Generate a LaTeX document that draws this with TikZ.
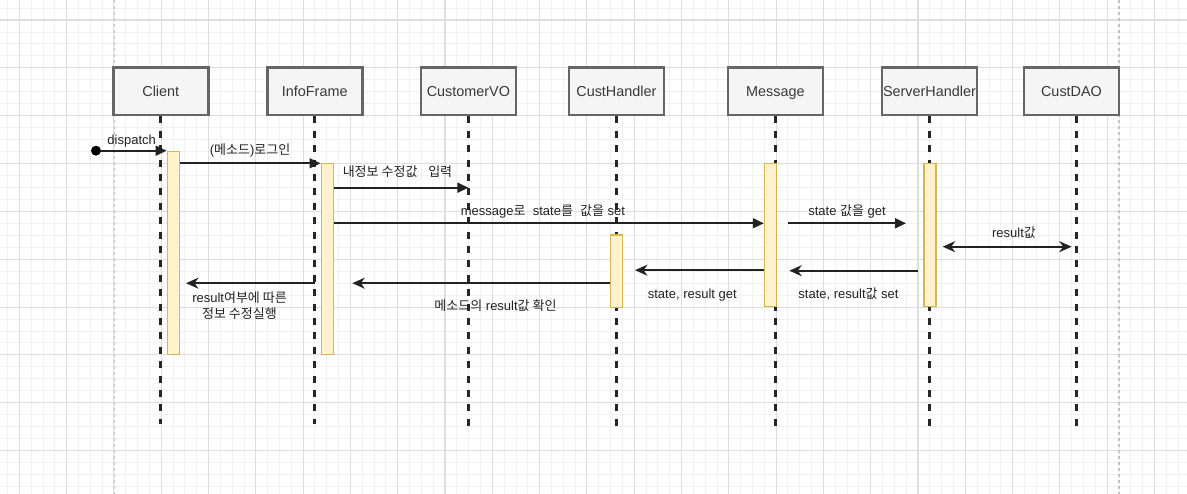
\documentclass[tikz,border=0pt]{standalone}
\usepackage{fontspec}
\setmainfont{Liberation Sans}
\newfontfamily\krfont{Noto Sans CJK KR}
\newcommand\ko[1]{{\krfont #1}}
\usetikzlibrary{arrows.meta}
\definecolor{gridminor}{HTML}{F1F1F1}
\definecolor{gridmajor}{HTML}{DEDEDE}
\definecolor{pageline}{HTML}{C4C4C4}
\definecolor{boxfill}{HTML}{F5F5F5}
\definecolor{boxline}{HTML}{666666}
\definecolor{barfill}{HTML}{FFF2CC}
\definecolor{barline}{HTML}{D6B656}
\definecolor{ink}{HTML}{222222}
\begin{document}
\begin{tikzpicture}[x=1pt,y=-1pt,
  actor/.style={draw=boxline, line width=2.6pt, fill=boxfill, minimum width=95pt,
    minimum height=47.7pt, inner sep=0pt, text=ink!90, font=\fontsize{14.4}{16}\selectfont,
    text height=10.3pt, text depth=0pt},
  lifeline/.style={line width=3pt, black!85, dash pattern=on 7pt off 7.4pt},
  bar/.style={draw=barline, fill=barfill, line width=1.4pt, minimum width=12pt, inner sep=0pt},
  msg/.style={draw=ink, line width=1.7pt, -{Triangle[length=11pt,width=10pt]}},
  ret/.style={draw=ink, line width=1.7pt, -{Stealth[length=12.5pt,width=11pt,inset=4pt]}},
  both/.style={draw=ink, line width=1.7pt, {Stealth[length=12.5pt,width=11pt,inset=4pt]}-{Stealth[length=12.5pt,width=11pt,inset=4pt]}},
  lbl/.style={inner sep=0pt, text=ink, font=\fontsize{13}{15.5}\selectfont,
    text height=9pt, text depth=2.5pt}
]
\useasboundingbox (0,0) rectangle (1187,494);
\fill[white] (0,0) rectangle (1187,494);

% background grid
\foreach \i in {-1,...,99}
  \draw[gridminor, line width=0.9pt] ({19.3+11.825*\i},0) -- ++(0,494);
\foreach \j in {-1,...,40}
  \draw[gridminor, line width=0.9pt] (0,{20+11.96*\j}) -- ++(1187,0);
\foreach \i in {0,...,24}
  \draw[gridmajor, line width=1.1pt] ({19.3+47.3*\i},0) -- ++(0,494);
\foreach \j in {0,...,9}
  \draw[gridmajor, line width=1.1pt] (0,{20+47.85*\j}) -- ++(1187,0);
\draw[pageline, line width=1.1pt, dash pattern=on 3pt off 3pt] (114.3,0) -- (114.3,494);
\draw[pageline, line width=1.1pt, dash pattern=on 3pt off 3pt] (1119,0) -- (1119,494);

% participants
\node[actor] (client) at (160.8,91.2) {Client};
\node[actor] (info)   at (314.7,91.2) {InfoFrame};
\node[actor] (vo)     at (468.4,91.2) {CustomerVO};
\node[actor] (hand)   at (616.4,91.2) {CustHandler};
\node[actor] (msgp)   at (775.4,91.2) {Message};
\node[actor] (server) at (929.5,91.2) {ServerHandler};
\node[actor] (dao)    at (1071.5,91.2) {CustDAO};

% lifelines
\draw[lifeline] (client.south) -- ++(0,308);
\draw[lifeline] (info.south) -- ++(0,308);
\draw[lifeline] (vo.south) -- ++(0,310);
\draw[lifeline] (hand.south) -- ++(0,310);
\draw[lifeline] (msgp.south) -- ++(0,310);
\draw[lifeline] (server.south) -- ++(0,310);
\draw[lifeline] ([xshift=5.2pt]dao.south) -- ++(0,310);

% activation bars
\node[bar, minimum height=202.6pt] (cbar) at (173.3,253) {};
\node[bar, minimum height=191pt]   (ibar) at (327.2,258.8) {};
\node[bar, minimum height=72.3pt]  (hbar) at (616.7,271.2) {};
\node[bar, minimum height=143.4pt] (mbar) at (770.5,235) {};
\node[bar, minimum height=143.4pt] (sbar) at (930,235) {};

% message levels
\coordinate (y2) at (0,163.3);
\coordinate (y3) at (0,187.7);
\coordinate (y4) at (0,223.3);
\coordinate (y8) at (0,270.2);
\coordinate (y9) at (0,283.2);
\coordinate (getS) at (788.3,223.3);
\coordinate (getE) at (906,223.3);
\coordinate (resS) at (942.7,246.7);
\coordinate (resE) at (1071.7,246.7);
\coordinate (setS) at (918.3,270.7);
\coordinate (setE) at (789.3,270.7);
\coordinate (rgetE) at (635,270.2);
\coordinate (chkE) at (352.3,283.2);
\coordinate (runE) at (186,283.2);

% calls
\node[circle, fill=black, inner sep=0pt, minimum size=10pt] (start) at (96,150.7) {};
\draw[msg] (start) -- (cbar.west |- start);
\node[lbl] at (131.7,141) {dispatch};

\draw[msg] (cbar.east |- y2) -- (ibar.west |- y2);
\node[lbl] at (250,151) {(\ko{메소드})\ko{로그인}};

\draw[msg] (ibar.east |- y3) -- (vo.south |- y3);
\node[lbl] at (397.5,173) {\ko{내정보 수정값}\ \ \ \ko{입력}};

\draw[msg] (ibar.east |- y4) -- (mbar.west |- y4);
\node[lbl] at (543,212.7) {message\ko{로}\ \ state\ko{를}\ \ \ko{값을} set};

\draw[msg] (getS) -- (getE);
\node[lbl] at (847,212.3) {state \ko{값을} get};

\draw[both] (resS) -- (resE);
\node[lbl] at (1014,234) {result\ko{값}};

% returns
\draw[ret] (setS) -- (setE);
\node[lbl] at (848.5,295.3) {state, result\ko{값} set};

\draw[ret] (mbar.west |- y8) -- (rgetE);
\node[lbl] at (692.3,295) {state, result get};

\draw[ret] (hbar.west |- y9) -- (chkE);
\node[lbl] at (495.5,307.3) {\ko{메소드의} result\ko{값 확인}};

\draw[ret] (info.south |- y9) -- (runE);
\node[lbl, align=center, text height=, text depth=] at (239.5,305.8)
  {result\ko{여부에 따른}\\\ko{정보 수정실행}};
\end{tikzpicture}
\end{document}
